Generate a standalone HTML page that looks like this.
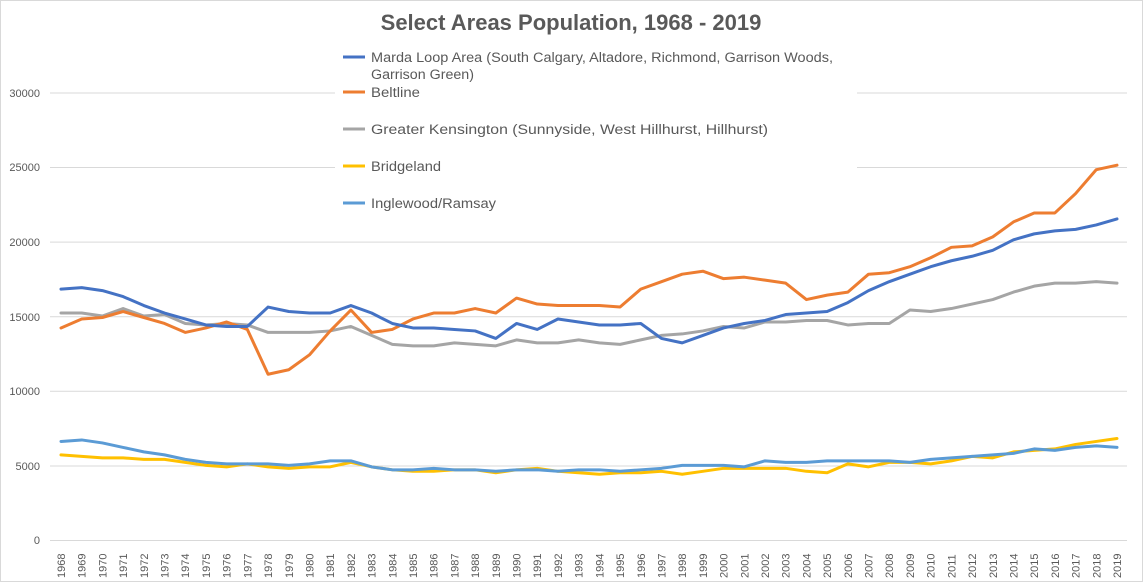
<!DOCTYPE html>
<html><head><meta charset="utf-8"><style>
html,body{margin:0;padding:0;background:#fff}
svg{display:block;font-family:"Liberation Sans",sans-serif}
</style></head><body>
<svg width="1143" height="582" viewBox="0 0 1143 582" xmlns="http://www.w3.org/2000/svg">
<rect x="0.5" y="0.5" width="1142" height="581" fill="#fff" stroke="#d9d9d9"/>
<text x="571" y="30" text-anchor="middle" font-size="22" font-weight="bold" fill="#595959">Select Areas Population, 1968 - 2019</text>
<g stroke="#d9d9d9" stroke-width="1">
<line x1="50" y1="540.5" x2="1127" y2="540.5"/>
<line x1="50" y1="466" x2="1127" y2="466"/>
<line x1="50" y1="391.3" x2="1127" y2="391.3"/>
<line x1="50" y1="316.8" x2="1127" y2="316.8"/>
<line x1="50" y1="242.1" x2="1127" y2="242.1"/>
<line x1="50" y1="167.5" x2="1127" y2="167.5"/>
<line x1="50" y1="93" x2="1127" y2="93"/>
</g>
<g font-size="11" fill="#595959" text-anchor="end">
<text x="40" y="544">0</text>
<text x="40" y="470">5000</text>
<text x="40" y="395">10000</text>
<text x="40" y="321">15000</text>
<text x="40" y="246">20000</text>
<text x="40" y="171">25000</text>
<text x="40" y="97">30000</text>
</g>
<rect x="335" y="40" width="522" height="176" fill="#fff"/>
<g fill="none" stroke-width="3" stroke-linejoin="round" stroke-linecap="round" transform="translate(61,540) scale(20.706,-0.014933)">
<polyline vector-effect="non-scaling-stroke" stroke="#A5A5A5" points="0,15200 1,15200 2,15000 3,15500 4,15000 5,15100 6,14500 7,14400 8,14500 9,14400 10,13900 11,13900 12,13900 13,14000 14,14300 15,13700 16,13100 17,13000 18,13000 19,13200 20,13100 21,13000 22,13400 23,13200 24,13200 25,13400 26,13200 27,13100 28,13400 29,13700 30,13800 31,14000 32,14300 33,14200 34,14600 35,14600 36,14700 37,14700 38,14400 39,14500 40,14500 41,15400 42,15300 43,15500 44,15800 45,16100 46,16600 47,17000 48,17200 49,17200 50,17300 51,17200"/>
<polyline vector-effect="non-scaling-stroke" stroke="#FFC000" points="0,5700 1,5600 2,5500 3,5500 4,5400 5,5400 6,5200 7,5000 8,4900 9,5100 10,4900 11,4800 12,4900 13,4900 14,5200 15,4900 16,4700 17,4600 18,4600 19,4700 20,4700 21,4500 22,4700 23,4800 24,4600 25,4500 26,4400 27,4500 28,4500 29,4600 30,4400 31,4600 32,4800 33,4800 34,4800 35,4800 36,4600 37,4500 38,5100 39,4900 40,5200 41,5200 42,5100 43,5300 44,5600 45,5500 46,5900 47,6000 48,6100 49,6400 50,6600 51,6800"/>
<polyline vector-effect="non-scaling-stroke" stroke="#5B9BD5" points="0,6600 1,6700 2,6500 3,6200 4,5900 5,5700 6,5400 7,5200 8,5100 9,5100 10,5100 11,5000 12,5100 13,5300 14,5300 15,4900 16,4700 17,4700 18,4800 19,4700 20,4700 21,4600 22,4700 23,4700 24,4600 25,4700 26,4700 27,4600 28,4700 29,4800 30,5000 31,5000 32,5000 33,4900 34,5300 35,5200 36,5200 37,5300 38,5300 39,5300 40,5300 41,5200 42,5400 43,5500 44,5600 45,5700 46,5800 47,6100 48,6000 49,6200 50,6300 51,6200"/>
<polyline vector-effect="non-scaling-stroke" stroke="#ED7D31" points="0,14200 1,14800 2,14900 3,15300 4,14900 5,14500 6,13900 7,14200 8,14600 9,14100 10,11100 11,11400 12,12400 13,14000 14,15400 15,13900 16,14100 17,14800 18,15200 19,15200 20,15500 21,15200 22,16200 23,15800 24,15700 25,15700 26,15700 27,15600 28,16800 29,17300 30,17800 31,18000 32,17500 33,17600 34,17400 35,17200 36,16100 37,16400 38,16600 39,17800 40,17900 41,18300 42,18900 43,19600 44,19700 45,20300 46,21300 47,21900 48,21900 49,23200 50,24800 51,25100"/>
<polyline vector-effect="non-scaling-stroke" stroke="#4472C4" points="0,16800 1,16900 2,16700 3,16300 4,15700 5,15200 6,14800 7,14400 8,14300 9,14300 10,15600 11,15300 12,15200 13,15200 14,15700 15,15200 16,14500 17,14200 18,14200 19,14100 20,14000 21,13500 22,14500 23,14100 24,14800 25,14600 26,14400 27,14400 28,14500 29,13500 30,13200 31,13700 32,14200 33,14500 34,14700 35,15100 36,15200 37,15300 38,15900 39,16700 40,17300 41,17800 42,18300 43,18700 44,19000 45,19400 46,20100 47,20500 48,20700 49,20800 50,21100 51,21500"/>
</g>
<g stroke-width="3">
<line x1="343" y1="57" x2="365" y2="57" stroke="#4472C4"/>
<line x1="343" y1="92" x2="365" y2="92" stroke="#ED7D31"/>
<line x1="343" y1="129" x2="365" y2="129" stroke="#A5A5A5"/>
<line x1="343" y1="166" x2="365" y2="166" stroke="#FFC000"/>
<line x1="343" y1="203" x2="365" y2="203" stroke="#5B9BD5"/>
</g>
<g font-size="13.5" fill="#595959">
<text x="371" y="62" textLength="462" lengthAdjust="spacingAndGlyphs">Marda Loop Area (South Calgary, Altadore, Richmond, Garrison Woods,</text>
<text x="371" y="79" textLength="103" lengthAdjust="spacingAndGlyphs">Garrison Green)</text>
<text x="371" y="97" textLength="49" lengthAdjust="spacingAndGlyphs">Beltline</text>
<text x="371" y="134" textLength="397" lengthAdjust="spacingAndGlyphs">Greater Kensington (Sunnyside, West Hillhurst, Hillhurst)</text>
<text x="371" y="171" textLength="70" lengthAdjust="spacingAndGlyphs">Bridgeland</text>
<text x="371" y="208" textLength="125" lengthAdjust="spacingAndGlyphs">Inglewood/Ramsay</text>
</g>
<g font-size="11" fill="#595959">
<text transform="translate(65,578) rotate(-90)">1968</text>
<text transform="translate(85.7,578) rotate(-90)">1969</text>
<text transform="translate(106.4,578) rotate(-90)">1970</text>
<text transform="translate(127.1,578) rotate(-90)">1971</text>
<text transform="translate(147.8,578) rotate(-90)">1972</text>
<text transform="translate(168.5,578) rotate(-90)">1973</text>
<text transform="translate(189.2,578) rotate(-90)">1974</text>
<text transform="translate(209.9,578) rotate(-90)">1975</text>
<text transform="translate(230.6,578) rotate(-90)">1976</text>
<text transform="translate(251.4,578) rotate(-90)">1977</text>
<text transform="translate(272.1,578) rotate(-90)">1978</text>
<text transform="translate(292.8,578) rotate(-90)">1979</text>
<text transform="translate(313.5,578) rotate(-90)">1980</text>
<text transform="translate(334.2,578) rotate(-90)">1981</text>
<text transform="translate(354.9,578) rotate(-90)">1982</text>
<text transform="translate(375.6,578) rotate(-90)">1983</text>
<text transform="translate(396.3,578) rotate(-90)">1984</text>
<text transform="translate(417,578) rotate(-90)">1985</text>
<text transform="translate(437.7,578) rotate(-90)">1986</text>
<text transform="translate(458.4,578) rotate(-90)">1987</text>
<text transform="translate(479.1,578) rotate(-90)">1988</text>
<text transform="translate(499.8,578) rotate(-90)">1989</text>
<text transform="translate(520.5,578) rotate(-90)">1990</text>
<text transform="translate(541.2,578) rotate(-90)">1991</text>
<text transform="translate(561.9,578) rotate(-90)">1992</text>
<text transform="translate(582.7,578) rotate(-90)">1993</text>
<text transform="translate(603.4,578) rotate(-90)">1994</text>
<text transform="translate(624.1,578) rotate(-90)">1995</text>
<text transform="translate(644.8,578) rotate(-90)">1996</text>
<text transform="translate(665.5,578) rotate(-90)">1997</text>
<text transform="translate(686.2,578) rotate(-90)">1998</text>
<text transform="translate(706.9,578) rotate(-90)">1999</text>
<text transform="translate(727.6,578) rotate(-90)">2000</text>
<text transform="translate(748.3,578) rotate(-90)">2001</text>
<text transform="translate(769,578) rotate(-90)">2002</text>
<text transform="translate(789.7,578) rotate(-90)">2003</text>
<text transform="translate(810.4,578) rotate(-90)">2004</text>
<text transform="translate(831.1,578) rotate(-90)">2005</text>
<text transform="translate(851.8,578) rotate(-90)">2006</text>
<text transform="translate(872.5,578) rotate(-90)">2007</text>
<text transform="translate(893.2,578) rotate(-90)">2008</text>
<text transform="translate(914,578) rotate(-90)">2009</text>
<text transform="translate(934.7,578) rotate(-90)">2010</text>
<text transform="translate(955.4,578) rotate(-90)">2011</text>
<text transform="translate(976.1,578) rotate(-90)">2012</text>
<text transform="translate(996.8,578) rotate(-90)">2013</text>
<text transform="translate(1017.5,578) rotate(-90)">2014</text>
<text transform="translate(1038.2,578) rotate(-90)">2015</text>
<text transform="translate(1058.9,578) rotate(-90)">2016</text>
<text transform="translate(1079.6,578) rotate(-90)">2017</text>
<text transform="translate(1100.3,578) rotate(-90)">2018</text>
<text transform="translate(1121,578) rotate(-90)">2019</text>
</g>
</svg>
</body></html>
